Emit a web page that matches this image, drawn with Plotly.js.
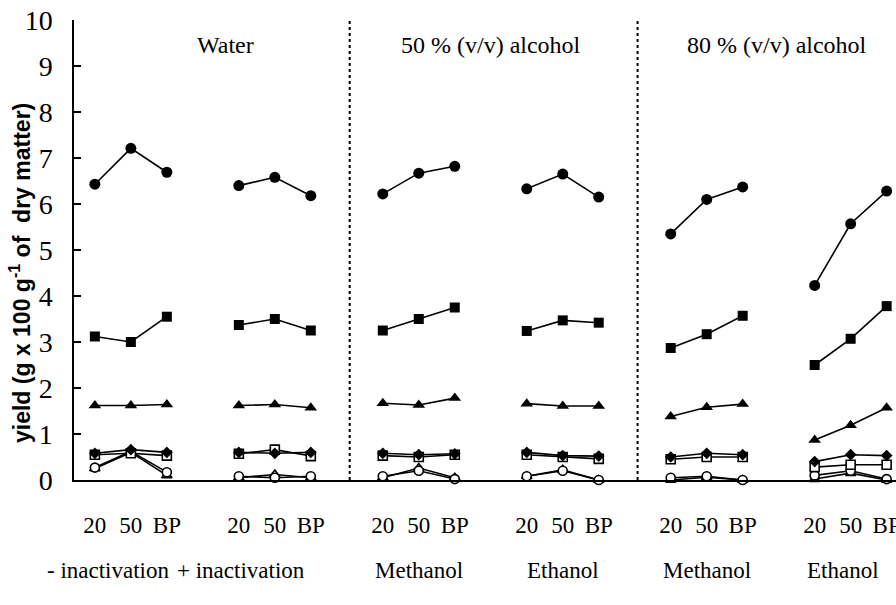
<!DOCTYPE html>
<html><head><meta charset="utf-8">
<script src="https://cdn.plot.ly/plotly-3.0.1.min.js"></script>
<style>body{margin:0;padding:0;background:#fff}#chart{width:896px;height:605px}</style>
</head><body><div id="chart"></div>
<script>
// x positions: group g (0..5), temperature k (0..2) -> 4*g + k
var xPos = [0,1,2,null,4,5,6,null,8,9,10,null,12,13,14,null,16,17,18,null,20,21,22];
var tickVals = [0,1,2,4,5,6,8,9,10,12,13,14,16,17,18,20,21,22];
var tickText = ["20","50","BP","20","50","BP","20","50","BP","20","50","BP","20","50","BP","20","50","BP"];
var groupCenters = [0.36,4.06,9,13,17,20.8];
var groupLabels = ["- inactivation","+ inactivation","Methanol","Ethanol","Methanol","Ethanol"];
var solventCenters = [3.64,11,18.95];
var solventLabels = ["Water","50 % (v/v) alcohol","80 % (v/v) alcohol"];
var dividers = [7.08,15.08];

var filledCircle = [6.43,7.21,6.69,null,6.40,6.58,6.18,null,6.22,6.67,6.82,null,6.33,6.65,6.15,null,5.35,6.10,6.37,null,4.23,5.57,6.28];
var filledSquare = [3.12,3.00,3.55,null,3.37,3.50,3.25,null,3.25,3.50,3.75,null,3.24,3.47,3.42,null,2.87,3.17,3.57,null,2.50,3.07,3.78];
var filledTriangle = [1.62,1.62,1.64,null,1.62,1.64,1.57,null,1.67,1.63,1.78,null,1.66,1.61,1.61,null,1.38,1.58,1.65,null,0.87,1.19,1.57];
var filledDiamond = [0.58,0.66,0.60,null,0.60,0.58,0.60,null,0.58,0.55,0.57,null,0.60,0.53,0.52,null,0.50,0.58,0.55,null,0.40,0.55,0.53];
var openSquare = [0.55,0.58,0.53,null,0.57,0.66,0.52,null,0.53,0.50,0.55,null,0.55,0.50,0.46,null,0.45,0.50,0.50,null,0.28,0.33,0.33];
var openCircle = [0.27,0.62,0.17,null,0.08,0.05,0.08,null,0.08,0.20,0.02,null,0.08,0.20,0.00,null,0.05,0.08,0.00,null,0.10,0.20,0.02];
var openTriangle = [0.25,0.60,0.10,null,0.05,0.12,0.05,null,0.05,0.26,0.05,null,0.08,0.22,0.00,null,0.00,0.06,0.00,null,0.02,0.15,0.00];

var SERIF = 'Liberation Serif, Tinos, Times New Roman, DejaVu Serif, serif';
var SANS = 'Liberation Sans, Arimo, Arial, sans-serif';

function tr(y, symbol, size, open){
  return {x:xPos, y:y, type:'scatter', mode:'lines+markers', connectgaps:false, cliponaxis:false,
    line:{color:'#000', width:1.6},
    marker:{symbol:symbol, size:size, color: open ? '#fff' : '#000', line:{color:'#000', width: open ? 1.6 : 0}},
    hoverinfo:'y', showlegend:false};
}
var data = [
  tr(openTriangle,'triangle-up',9,true),
  tr(openCircle,'circle',9,true),
  tr(openSquare,'square',9,true),
  tr(filledDiamond,'diamond',9,false),
  tr(filledTriangle,'triangle-up',11,false),
  tr(filledSquare,'square',10,false),
  tr(filledCircle,'circle',11,false)
];

var annotations = [];
groupCenters.forEach(function(c,i){
  annotations.push({x:c, y:-0.196, xref:'x', yref:'paper', text:groupLabels[i], showarrow:false,
    font:{family:SERIF, size:23, color:'#000'}, xanchor:'center', yanchor:'middle'});
});
solventCenters.forEach(function(c,i){
  annotations.push({x:c, y:9.45, xref:'x', yref:'y', text:solventLabels[i], showarrow:false,
    font:{family:SERIF, size:24, color:'#000'}, xanchor:'center', yanchor:'middle'});
});
annotations.push({x:(20-74)/822, xref:'paper', xanchor:'center', y:(480-273)/460, yref:'paper', yanchor:'middle',
  text:'<b>yield (g x 100 g<sup>-1</sup> of  dry matter)</b>', textangle:-90, showarrow:false,
  font:{family:SANS, size:23, color:'#000'}});
var shapes = dividers.map(function(d){
  return {type:'line', xref:'x', yref:'y', x0:d, x1:d, y0:0, y1:10, line:{color:'#000', width:2, dash:'dot'}};
});

var layout = {
  width:896, height:605,
  margin:{l:74, r:0, t:20, b:125},
  paper_bgcolor:'#fff', plot_bgcolor:'#fff',
  font:{family:SERIF, color:'#000'},
  xaxis:{range:[-0.58,22.26], tickvals:tickVals, ticktext:tickText, showgrid:false, zeroline:false,
    showline:true, linecolor:'#000', linewidth:1.6, ticks:'', ticklabelstandoff:24, ticklabeloverflow:'allow',
    tickfont:{family:SERIF, size:23, color:'#000'}, fixedrange:true},
  yaxis:{range:[0,10], dtick:1, tick0:0, showgrid:false, zeroline:false, showline:true, linecolor:'#000', linewidth:1.6,
    ticks:'inside', ticklen:7, tickwidth:1.5, tickcolor:'#000', ticklabelstandoff:14,
    tickfont:{family:SERIF, size:28, color:'#000'}},
  annotations:annotations,
  shapes:shapes,
  showlegend:false
};
Plotly.newPlot('chart', data, layout, {displayModeBar:false, staticPlot:true});
</script></body></html>
